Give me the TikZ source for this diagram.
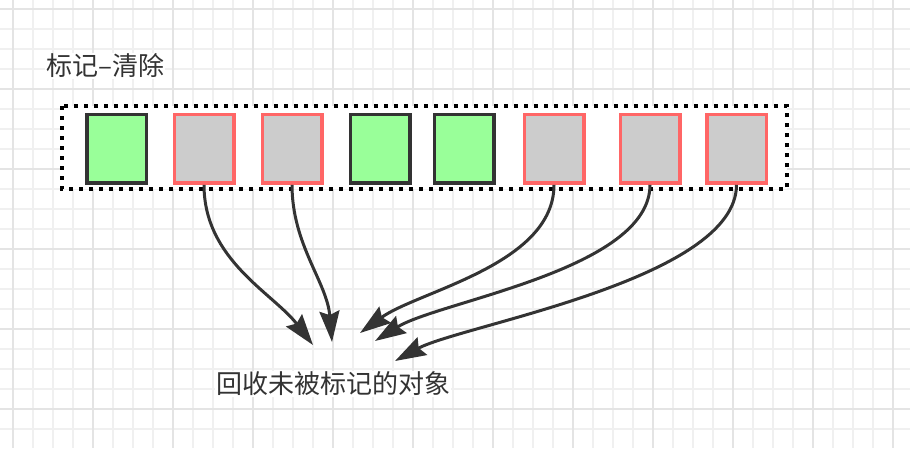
\documentclass[tikz,border=0pt]{standalone}
\usepackage{fontspec}
\newfontfamily\cjk{Noto Sans CJK SC}
\usetikzlibrary{arrows.meta}
\definecolor{livefill}{HTML}{99FF99}
\definecolor{deadfill}{HTML}{CCCCCC}
\definecolor{deadline}{HTML}{FF6666}
\definecolor{ink}{HTML}{333333}
\definecolor{gridminor}{HTML}{F0F0F0}
\definecolor{gridmajor}{HTML}{E4E4E4}
\tikzset{
	cell/.style={rectangle, minimum width=59.5pt, minimum height=68.5pt, line width=3.5pt, inner sep=0pt},
	live/.style={cell, draw=ink, fill=livefill},
	dead/.style={cell, draw=deadline, fill=deadfill},
	sweep/.style={draw=ink, line width=3pt, -{Stealth[length=31pt, width=20pt, inset=4pt]}},
	caption/.style={font=\cjk\fontsize{26}{30}\selectfont, text=ink, fill=white, inner sep=1pt}
}

\begin{document}
\begin{tikzpicture}[x=1pt, y=-1pt]
		%%%%% GRID %%%%%
		\useasboundingbox (0, 0) rectangle (910, 448);
		\foreach \gx in {13, 33, ..., 910} \draw[gridminor, line width=2pt] (\gx, 0) -- (\gx, 448);
		\foreach \gy in {9, 29, ..., 448} \draw[gridminor, line width=2pt] (0, \gy) -- (910, \gy);
		\foreach \gx in {13, 93, ..., 910} \draw[gridmajor, line width=2pt] (\gx, 0) -- (\gx, 448);
		\foreach \gy in {9, 89, ..., 448} \draw[gridmajor, line width=2pt] (0, \gy) -- (910, \gy);
		
		%%%%% HEAP %%%%%
		\draw[fill=white, line width=4pt, dash pattern=on 4pt off 6pt] (62, 106) rectangle (787, 189);
		\node[caption, anchor=west] (title) at (45, 66) {标记–清除};
		
		\node[live] (m1) at (116.5, 148.8) {};
		\node[dead] (m2) at (204, 148.8) {};
		\node[dead] (m3) at (292, 148.8) {};
		\node[live] (m4) at (380, 148.8) {};
		\node[live] (m5) at (464, 148.8) {};
		\node[dead] (m6) at (554, 148.8) {};
		\node[dead] (m7) at (650, 148.8) {};
		\node[dead] (m8) at (736.5, 148.8) {};
		
		%%%%% SWEEP %%%%%
		\node[caption] (freed) at (333, 384) {回收未被标记的对象};
		\coordinate (t2) at (313, 345);
		\coordinate (t3) at (332, 342);
		\coordinate (t6) at (360, 333);
		\coordinate (t7) at (375, 341);
		\coordinate (t8) at (395, 361);
		
		\draw[sweep] (m2.south) .. controls +(0, 75) and +(-40, -52) .. (t2);
		\draw[sweep] (m3.south) .. controls +(0, 60) and +(-5, -60) .. (t3);
		\draw[sweep] (m6.south) .. controls +(0, 80) and +(58, -42) .. (t6);
		\draw[sweep] (m7.south) .. controls +(0, 85) and +(64, -40) .. (t7);
		\draw[sweep] (m8.south) .. controls +(0, 95) and +(66, -36) .. (t8);
\end{tikzpicture}
\end{document}
